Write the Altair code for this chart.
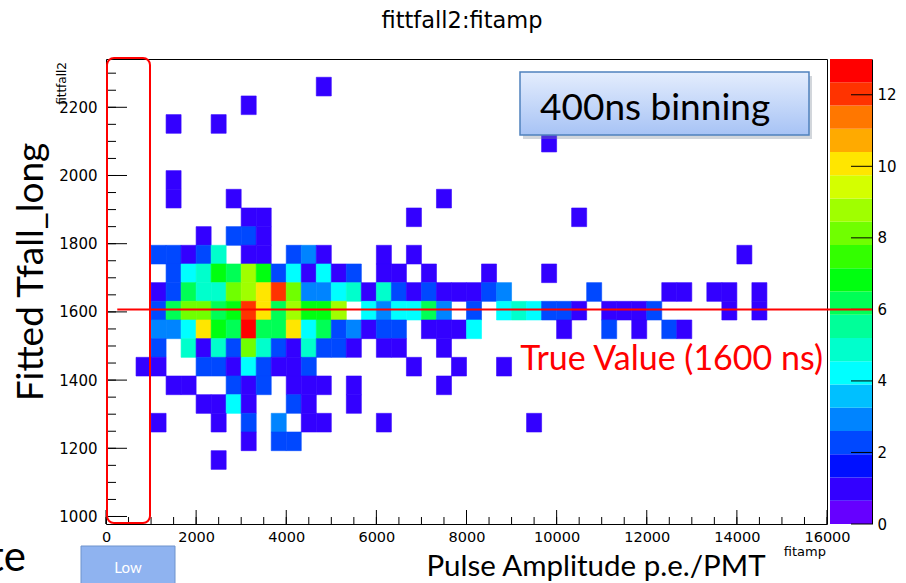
import altair as alt
import pandas as pd

# ---------------- values ----------------
# fitamp binning: width of a bin and lower edge of the first listed bin
AMP_BIN = 333.33
AMP_FIRST_LO = 666.67
# fittfall2 binning: bin height and upper edge of the first listed row
TF_BIN = 54.75
TF_FIRST_HI = 2288.0

# entries per bin: one list per fittfall2 row (top row first),
# each list runs over the fitamp bins starting at AMP_FIRST_LO
counts = [
    [0, 0, 0, 0, 0, 0, 0, 0, 0, 0, 0, 0, 1],
    [0, 0, 0, 0, 0, 0, 0, 1],
    [0, 0, 1, 0, 0, 1],
    [0, 0, 0, 0, 0, 0, 0, 0, 0, 0, 0, 0, 0, 0, 0, 0, 0, 0, 0, 0, 0, 0, 0, 0, 0, 0, 0, 1],
    [],
    [0, 0, 1],
    [0, 0, 1, 0, 0, 0, 1, 0, 0, 0, 0, 0, 0, 0, 0, 0, 0, 0, 0, 0, 1],
    [0, 0, 0, 0, 0, 0, 0, 1, 1, 0, 0, 0, 0, 0, 0, 0, 0, 0, 1, 0, 0, 0, 0, 0, 0, 0, 0, 0, 0, 1],
    [0, 0, 0, 0, 1, 0, 2, 2, 1],
    [0, 2, 2, 1, 2, 5, 0, 1, 1, 0, 2, 3, 1, 0, 0, 0, 1, 0, 1, 0,
     0, 0, 0, 0, 0, 0, 0, 0, 0, 0, 0, 0, 0, 0, 0, 0, 0, 0, 0, 0, 1],
    [0, 0, 2, 4, 5, 7, 6, 9, 7, 2, 4, 1, 4, 1, 2, 0, 1, 1, 0, 1,
     0, 0, 0, 1, 0, 0, 0, 1],
    [0, 1, 2, 6, 5, 5, 8, 9, 10, 12, 8, 3, 3, 4, 5, 1, 5, 2, 1, 2,
     1, 1, 1, 2, 3, 0, 0, 0, 0, 0, 2, 0, 0, 0, 0, 1, 1, 0, 1, 1, 0, 1],
    [0, 2, 6, 8, 8, 6, 7, 12, 10, 6, 9, 7, 7, 9, 0, 4, 3, 4, 4, 6,
     3, 0, 2, 0, 4, 5, 4, 2, 2, 1, 0, 1, 1, 1, 2, 0, 0, 0, 0, 1, 0, 1],
    [0, 3, 3, 4, 10, 7, 6, 13, 6, 6, 10, 4, 6, 2, 3, 1, 2, 2, 0, 1,
     1, 1, 4, 0, 0, 0, 0, 0, 1, 0, 0, 2, 0, 1, 0, 2, 1],
    [0, 2, 0, 5, 1, 5, 2, 8, 5, 2, 1, 5, 2, 2, 1, 0, 1, 1, 0, 0, 1],
    [1, 1, 0, 0, 2, 2, 1, 4, 2, 1, 1, 2, 0, 0, 0, 0, 0, 0, 1, 0, 0, 1, 0, 0, 1],
    [0, 0, 1, 1, 0, 0, 2, 1, 2, 0, 1, 1, 1, 0, 1, 0, 0, 0, 0, 0, 1],
    [0, 0, 0, 0, 1, 1, 4, 1, 0, 0, 2, 1, 0, 0, 1],
    [0, 1, 0, 0, 0, 1, 0, 2, 0, 3, 0, 1, 1, 0, 0, 0, 1, 0, 0, 0, 0, 0, 0, 0, 0, 0, 1],
    [0, 0, 0, 0, 0, 0, 0, 1, 0, 2, 2],
    [0, 0, 0, 0, 0, 1],
    [],
]

# colour palette (20 contour levels from 0 to 13)
Z_MAX = 13
palette = [
    "#6600ff", "#3300ff", "#0010ff", "#0048ff", "#0084ff",
    "#00c0ff", "#00ffff", "#00ffcc", "#00ff99", "#00ff55",
    "#00ff10", "#33ff00", "#70ff00", "#a0ff00", "#d4ff00",
    "#ffe600", "#ffaa00", "#ff7700", "#ff3300", "#ff0000",
]

x_major = [0, 2000, 4000, 6000, 8000, 10000, 12000, 14000, 16000]
y_major = [1000, 1200, 1400, 1600, 1800, 2000, 2200]
z_major = [0, 2, 4, 6, 8, 10, 12]
true_value_y = 1607

# ---------------- build tables ----------------
recs = []
for r, row in enumerate(counts):
    hi = TF_FIRST_HI - r * TF_BIN
    for c, n in enumerate(row):
        if n > 0:
            lo_x = AMP_FIRST_LO + c * AMP_BIN
            recs.append(dict(amp_lo=lo_x, amp_hi=lo_x + AMP_BIN,
                             tf_lo=hi - TF_BIN, tf_hi=hi, count=n))
cells = pd.DataFrame(recs)

nb = len(palette)
bands = pd.DataFrame({
    "lo": [Z_MAX * i / nb for i in range(nb)],
    "hi": [Z_MAX * (i + 1) / nb for i in range(nb)],
})
bands["count"] = (bands["lo"] + bands["hi"]) / 2

x_minor = list(range(0, 16001, 500))
y_minor = list(range(1000, 2301, 50))

W, H = 721, 465
FONT_R = "DejaVu Sans"
FONT_S = "Lato"

xscale = alt.Scale(domain=[0, 16000], nice=False, zero=False)
yscale = alt.Scale(domain=[978, 2341.6], nice=False, zero=False)
zscale = alt.Scale(domain=[0, Z_MAX], nice=False, zero=True)
cscale = alt.Scale(type="quantize", domain=[0, Z_MAX], range=palette)

x_axis = alt.Axis(values=x_major, format="d", tickSize=0, domain=False, grid=False,
                  labelFont=FONT_R, labelFontSize=14.5, labelColor="black",
                  labelPadding=6, labelFlush=False, title=None)
y_axis = alt.Axis(values=y_major, format="d", tickSize=0, domain=False, grid=False,
                  labelFont=FONT_R, labelFontSize=15, labelColor="black",
                  labelPadding=9, title=None)
z_axis = alt.Axis(orient="right", offset=45, values=z_major, format="d", tickSize=0,
                  domain=True, domainColor="black", grid=False,
                  labelFont=FONT_R, labelFontSize=15, labelColor="black",
                  labelPadding=5, title=None)

heat = alt.Chart(cells).mark_rect(strokeWidth=0.6).encode(
    x=alt.X("amp_lo:Q", scale=xscale, axis=x_axis),
    x2="amp_hi:Q",
    y=alt.Y("tf_lo:Q", scale=yscale, axis=y_axis),
    y2="tf_hi:Q",
    color=alt.Color("count:Q", scale=cscale, legend=None),
    stroke=alt.Stroke("count:Q", scale=cscale, legend=None),
)

def yticks(vals, length):
    return alt.Chart(pd.DataFrame({"v": vals})).mark_rule(color="black", strokeWidth=1).encode(
        y=alt.Y("v:Q", scale=yscale, axis=y_axis), x=alt.value(0), x2=alt.value(length))

def xticks(vals, length):
    return alt.Chart(pd.DataFrame({"v": vals})).mark_rule(color="black", strokeWidth=1).encode(
        x=alt.X("v:Q", scale=xscale, axis=x_axis), y=alt.value(H), y2=alt.value(H - length))

main = alt.layer(heat, yticks(y_minor, 10), yticks(y_major, 21),
                 xticks(x_minor, 7), xticks(x_major, 14))

cbar = alt.Chart(bands).mark_rect().encode(
    y=alt.Y("lo:Q", scale=zscale, axis=z_axis),
    y2="hi:Q",
    x=alt.value(724), x2=alt.value(766),
    color=alt.Color("count:Q", scale=cscale, legend=None),
)
cbar_ticks = alt.Chart(pd.DataFrame({"v": z_major})).mark_rule(color="black", strokeWidth=1).encode(
    y=alt.Y("v:Q", scale=zscale, axis=z_axis), x=alt.value(745), x2=alt.value(766))
cb = alt.layer(cbar, cbar_ticks)

one = pd.DataFrame({"k": [0]})

def label(txt, x, y, **kw):
    return alt.Chart(pd.DataFrame({"t": [txt]})).mark_text(baseline="alphabetic", **kw).encode(
        x=alt.value(x), y=alt.value(y), text="t:N")

def box(x1, x2, y1, y2, **kw):
    return alt.Chart(one).mark_rect(**kw).encode(
        x=alt.value(x1), x2=alt.value(x2), y=alt.value(y1), y2=alt.value(y2))

red_line = alt.Chart(pd.DataFrame({"a": [250], "b": [17000], "y": [true_value_y]})).mark_rule(
    color="#ff0000", strokeWidth=2).encode(
    x=alt.X("a:Q", scale=xscale, axis=x_axis), x2="b:Q",
    y=alt.Y("y:Q", scale=yscale, axis=None))

grad = {"gradient": "linear", "x1": 0, "y1": 0, "x2": 0, "y2": 1,
        "stops": [{"offset": 0, "color": "#e4edfd"}, {"offset": 1, "color": "#a7c3f5"}]}

over = alt.layer(
    box(1, 44, -1, 464, fill="transparent", stroke="#ff0000", strokeWidth=2, cornerRadius=7),
    red_line,
    box(417, 706, 17, 80, fill="#7f8a99", opacity=0.35),
    box(414, 703, 13, 76, fill=grad, stroke="#4f81bd", strokeWidth=1.5),
    label("400ns binning", 434, 61, font=FONT_S, fontSize=37, color="black", align="left"),
    label("True Value (1600 ns)", 717, 311, font=FONT_S, fontSize=34, color="#ff0000", align="right"),
    label("fittfall2:fitamp", 356, -31, font=FONT_R, fontSize=22.5, color="black", align="center"),
    label("fitamp", 720, 497, font=FONT_R, fontSize=13, color="black", align="right"),
    label("fittfall2", -40, 3, font=FONT_R, fontSize=12, color="black", align="right", angle=270),
    label("Fitted Tfall_long", -63, 213, font=FONT_S, fontSize=37, color="black", align="center", angle=270),
    label("Pulse Amplitude p.e./PMT", 490, 517, font=FONT_S, fontSize=29.5, color="black", align="center"),
    box(-25, 69, 487, 535, fill="#8fb3f0", stroke="#6f93cc", strokeWidth=1),
    label("Low", 22, 514, font=FONT_S, fontSize=15, color="white", align="center"),
    label("te", -80, 512, font=FONT_S, fontSize=42, color="black", align="right"),
)

chart = alt.layer(main, cb, over).resolve_scale(y="independent").properties(
    width=W, height=H,
    padding={"left": 106, "top": 59, "right": 79, "bottom": 59},
    autosize=alt.AutoSizeParams(type="none"),
    background="white",
).configure_view(stroke="black", strokeWidth=1)

chart.save("out.html", embed_options={"renderer": "svg", "actions": False})
